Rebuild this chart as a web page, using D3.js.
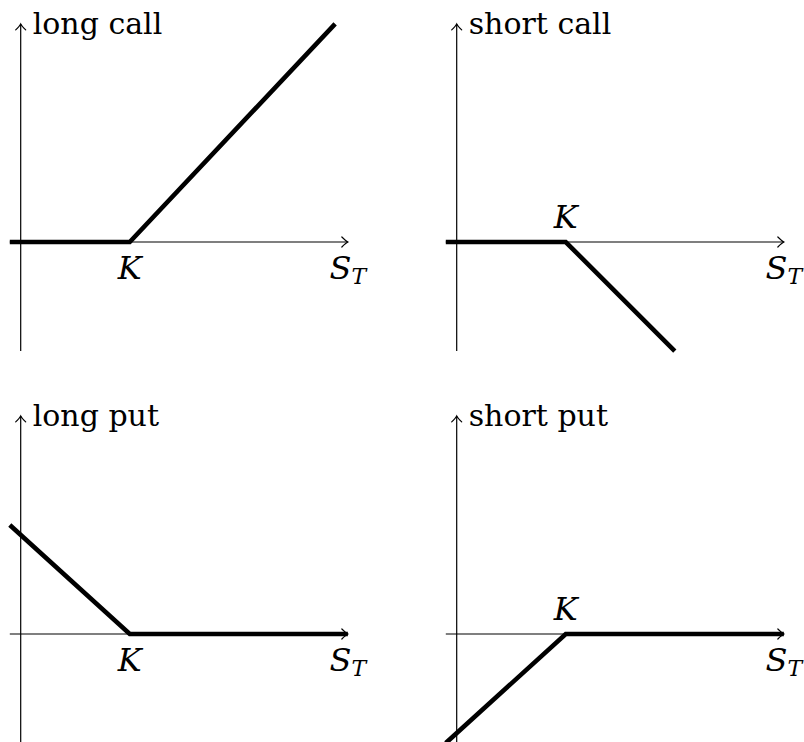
<!DOCTYPE html>
<html>
<head>
<meta charset="utf-8">
<script src="https://cdn.jsdelivr.net/npm/d3@7"></script>
<style>
  body { margin: 0; background: #fff; }
  svg { display: block; }
  text { font-family: "DejaVu Serif", serif; fill: #000; }
</style>
</head>
<body>
<svg id="chart"></svg>
<script>
// payoff diagrams, one per position (units: strike K = 3)
const panelTitles = ["long call", "short call", "long put", "short put"];
const strike = 3;
const xAxisExtent = [-0.3, 9];
const yAxisExtent = [-3, 6];
const longCall = [[-0.3, 0], [3, 0], [8.65, 6]];
const shortCall = [[-0.3, 0], [3, 0], [6, -3]];
const longPut = [[-0.3, 3], [3, 0], [9, 0]];
const shortPut = [[-0.3, -3], [3, 0], [9, 0]];
const payoffs = [longCall, shortCall, longPut, shortPut];
const kLabelSide = ["below", "above", "below", "above"];

const W = 804, H = 742;
const unit = 36.35;
// origin of each small plot in pixels
const origins = [[20.7, 242], [456.7, 242], [20.7, 634], [456.7, 634]];

const svg = d3.select("#chart").attr("width", W).attr("height", H);

function arrowHead(g, x, y, dir) {
  // tikz style "to" arrow tip
  let p;
  if (dir === "right") {
    p = `M${x - 6},${y - 5} Q${x - 2},${y - 1} ${x},${y} Q${x - 2},${y + 1} ${x - 6},${y + 5}`;
  } else {
    p = `M${x - 5},${y + 6} Q${x - 1},${y + 2} ${x},${y} Q${x + 1},${y + 2} ${x + 5},${y + 6}`;
  }
  g.append("path").attr("d", p).attr("fill", "none")
    .attr("stroke", "#000").attr("stroke-width", 1.2).attr("stroke-linecap", "round");
}

payoffs.forEach((pts, i) => {
  const [ox, oy] = origins[i];
  const x = d3.scaleLinear().domain([0, 1]).range([ox, ox + unit]);
  const y = d3.scaleLinear().domain([0, 1]).range([oy, oy - unit]);
  const g = svg.append("g");

  // axes
  g.append("line")
    .attr("x1", x(xAxisExtent[0])).attr("x2", x(xAxisExtent[1]))
    .attr("y1", y(0)).attr("y2", y(0))
    .attr("stroke", "#000").attr("stroke-width", 1.2);
  arrowHead(g, x(xAxisExtent[1]), y(0), "right");

  g.append("line")
    .attr("x1", x(0)).attr("x2", x(0))
    .attr("y1", y(yAxisExtent[0])).attr("y2", y(yAxisExtent[1]))
    .attr("stroke", "#000").attr("stroke-width", 1.2);
  arrowHead(g, x(0), y(yAxisExtent[1]), "up");

  // payoff
  const line = d3.line().x(d => x(d[0])).y(d => y(d[1]));
  g.append("path").datum(pts)
    .attr("d", line)
    .attr("fill", "none")
    .attr("stroke", "#000")
    .attr("stroke-width", 4.6)
    .attr("stroke-linejoin", "miter");

  // title next to the y arrow
  g.append("text")
    .attr("x", x(0) + 12)
    .attr("y", y(yAxisExtent[1]) + 10)
    .attr("font-size", 30)
    .text(panelTitles[i]);

  // K label
  g.append("text")
    .attr("x", x(strike))
    .attr("y", kLabelSide[i] === "below" ? y(0) + 37 : y(0) - 14)
    .attr("text-anchor", "middle")
    .attr("font-size", 32)
    .attr("font-style", "italic")
    .text("K");

  // S_T label
  const st = g.append("text")
    .attr("x", x(xAxisExtent[1]))
    .attr("y", y(0) + 37)
    .attr("text-anchor", "middle")
    .attr("font-size", 32)
    .attr("font-style", "italic");
  st.append("tspan").text("S");
  st.append("tspan").attr("font-size", 22).attr("dy", 5).text("T");
});
</script>
</body>
</html>
